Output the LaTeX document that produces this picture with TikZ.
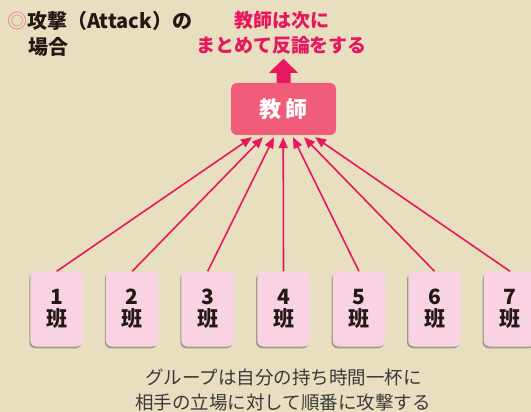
\documentclass[tikz,border=0pt]{standalone}
\usepackage{fontspec}
\setmainfont{Noto Sans CJK JP}
\usetikzlibrary{arrows.meta,shadows}
\definecolor{bgc}{HTML}{E8DFC0}
\definecolor{deeppink}{HTML}{E8175D}
\definecolor{teachc}{HTML}{F05C7A}
\definecolor{groupc}{HTML}{F9D3E4}
\definecolor{darktxt}{HTML}{231815}
\definecolor{graytxt}{HTML}{3A3A3A}
\definecolor{circc}{HTML}{EE8A98}
\tikzset{
  groupbox/.style={draw=none, fill=groupc, rounded corners=6pt, minimum width=52.5pt, minimum height=75pt,
    align=center, font=\fontsize{21pt}{24pt}\selectfont\bfseries, text=darktxt, inner sep=0pt,
    drop shadow={shadow xshift=-1.2pt, shadow yshift=-1.8pt, fill=black, opacity=0.3}},
  teachbox/.style={fill=teachc, rounded corners=6pt, minimum width=105pt, minimum height=52pt,
    font=\fontsize{22pt}{24pt}\selectfont\bfseries, text=white, inner sep=0pt},
  attack/.style={draw=deeppink, line width=1.6pt, -{Triangle[length=11pt,width=9pt]}},
  pinktxt/.style={text=deeppink, font=\fontsize{19pt}{25pt}\selectfont\bfseries, align=center, inner sep=0pt},
  titletxt/.style={text=darktxt, font=\fontsize{20pt}{26pt}\selectfont\bfseries, align=left, inner sep=0pt, anchor=west},
  bottomtxt/.style={text=graytxt, font=\fontsize{18.5pt}{25pt}\selectfont, align=center, inner sep=0pt}
}
\begin{document}
\begin{tikzpicture}[x=1pt,y=-1pt]
\fill[bgc] (0,0) rectangle (531,412);
\useasboundingbox (0,0) rectangle (531,412);
\clip (0,0) rectangle (531,412);
% title
\node[titletxt] (title1) at (7,20.5) {\textcolor{circc}{◎}攻撃（Attack）の};
\node[titletxt] (title2) at (28,46.5) {場合};
% pink text
\node[pinktxt] (pink1) at (282,20) {教師は次に};
\node[pinktxt] (pink2) at (281.5,45) {まとめて反論をする};
% teacher box
\node[teachbox] (teacher) at (283.5,109) {教\hspace{5pt}師};
% block arrow
\coordinate (bt) at (teacher.north);
\fill[deeppink] ([xshift=-7pt]bt) -- ++(0,-10) -- ++(-7.5,0) -- ++(14.5,-14) -- ++(14.5,14) -- ++(-7.5,0) -- ++(0,10) -- cycle;
% groups
\foreach \i/\x in {1/56.7,2/132.2,3/207.7,4/283.5,5/359,6/434.5,7/510}{
  \node[groupbox] (g\i) at (\x,309) {\i\\[-2pt]班};
}
% arrow tips on teacher bottom
\coordinate (t1) at ([xshift=-31.5pt, yshift=-2pt]teacher.south);
\coordinate (t2) at ([xshift=-20.5pt, yshift=-2pt]teacher.south);
\coordinate (t3) at ([xshift=-9.5pt, yshift=-2pt]teacher.south);
\coordinate (t4) at ([xshift=-0.3pt, yshift=-2pt]teacher.south);
\coordinate (t5) at ([xshift=9.5pt, yshift=-2pt]teacher.south);
\coordinate (t6) at ([xshift=20.5pt, yshift=-2pt]teacher.south);
\coordinate (t7) at ([xshift=31.5pt, yshift=-2pt]teacher.south);
\draw[attack] (g1.north) -- (t1);
\draw[attack] (g2.north) -- (t2);
\draw[attack] (g3.north) -- (t3);
\draw[attack] (g4.north) -- (t4);
\draw[attack] (g5.north) -- (t5);
\draw[attack] (g6.north) -- (t6);
\draw[attack] (g7.north) -- (t7);
% bottom text
\node[bottomtxt] (bot1) at (283.5,377) {グループは自分の持ち時間一杯に};
\node[bottomtxt] (bot2) at (283,402) {相手の立場に対して順番に攻撃する};
\end{tikzpicture}
\end{document}
